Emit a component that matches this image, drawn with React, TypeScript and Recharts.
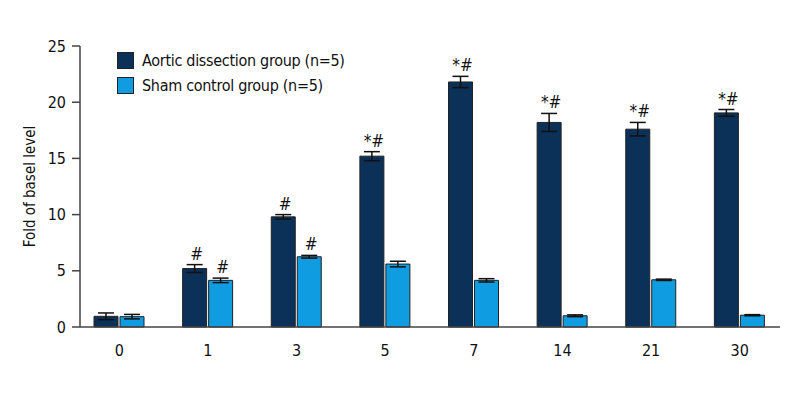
import React from 'react';
import { BarChart, Bar, XAxis, YAxis, ErrorBar, LabelList } from 'recharts';

const days = ['0', '1', '3', '5', '7', '14', '21', '30'];
const aorticValues = [0.95, 5.2, 9.8, 15.2, 21.8, 18.2, 17.6, 19.05];
const aorticErrors = [0.3, 0.35, 0.2, 0.4, 0.5, 0.8, 0.6, 0.3];
const aorticMarks = ['', '#', '#', '*#', '*#', '*#', '*#', '*#'];
const shamValues = [0.92, 4.15, 6.25, 5.6, 4.15, 1.0, 4.2, 1.05];
const shamErrors = [0.2, 0.2, 0.12, 0.25, 0.15, 0.08, 0.06, 0.05];
const shamMarks = ['', '#', '#', '', '', '', '', ''];
const yTicks = [0, 5, 10, 15, 20, 25];

const seriesNames = ['Aortic dissection group (n=5)', 'Sham control group (n=5)'];
const DARK = '#0b3158';
const LIGHT = '#0f9ce0';
const FONT = '"DejaVu Sans Condensed", "Liberation Sans Narrow", "Noto Sans", sans-serif';

const data = days.map((d, i) => ({
  day: d,
  aortic: aorticValues[i],
  aorticErr: aorticErrors[i],
  aorticMark: aorticMarks[i],
  sham: shamValues[i],
  shamErr: shamErrors[i],
  shamMark: shamMarks[i],
}));

const makeMarkLabel = (errs: number[], vals: number[]) => (props: any) => {
  const { x, y, width, height, value, index } = props;
  if (!value) return null;
  const v = vals[index];
  const pxPerUnit = v > 0 ? Math.abs(height) / v : 0;
  const errPx = errs[index] * pxPerUnit;
  return (
    <text
      x={x + width / 2 + 2}
      y={y - errPx - 5}
      textAnchor="middle"
      fontFamily={FONT}
      fontSize={17}
      fill="#111"
    >
      {value}
    </text>
  );
};

const LegendBox = () => (
  <div
    style={{
      position: 'absolute',
      left: 117,
      top: 48,
      fontFamily: FONT,
      fontSize: 16,
      letterSpacing: '-0.3px',
      color: '#111',
      lineHeight: '25px',
    }}
  >
    {[DARK, LIGHT].map((c, i) => (
      <div key={i} style={{ display: 'flex', alignItems: 'center', height: 25 }}>
        <span
          style={{
            display: 'inline-block',
            width: 15,
            height: 15,
            background: c,
            border: '1px solid #222',
            marginRight: 8,
          }}
        />
        <span>{seriesNames[i]}</span>
      </div>
    ))}
  </div>
);

export default function App() {
  return (
    <div style={{ position: 'absolute', left: 0, top: 0, width: 800, height: 400, background: '#fff' }}>
      <BarChart
        width={800}
        height={400}
        data={data}
        margin={{ top: 46, right: 20, bottom: 43, left: 0 }}
        barCategoryGap={19}
        barGap={2}
      >
        <XAxis
          dataKey="day"
          tickLine={false}
          axisLine={{ stroke: '#444', strokeWidth: 1.5 }}
          tick={{ fill: '#111', fontSize: 16, fontFamily: FONT }}
          tickMargin={12}
          height={30}
          padding={{ left: -5, right: -4 }}
        />
        <YAxis
          width={80}
          domain={[0, 25]}
          ticks={yTicks}
          interval={0}
          axisLine={{ stroke: '#444', strokeWidth: 1.5 }}
          tickLine={{ stroke: '#444', strokeWidth: 1.5 }}
          tickSize={8}
          tickMargin={6}
          tick={{ fill: '#111', fontSize: 16, fontFamily: FONT }}
          label={{
            value: 'Fold of basel level',
            angle: -90,
            position: 'insideLeft',
            offset: 30,
            style: { textAnchor: 'middle', fontFamily: FONT, fontSize: 15, fill: '#111' },
          }}
        />
        <Bar dataKey="aortic" name={seriesNames[0]} fill={DARK} stroke="#222" strokeWidth={1} isAnimationActive={false}>
          <ErrorBar dataKey="aorticErr" width={8} stroke="#111" strokeWidth={1.5} direction="y" />
          <LabelList dataKey="aorticMark" content={makeMarkLabel(aorticErrors, aorticValues)} />
        </Bar>
        <Bar dataKey="sham" name={seriesNames[1]} fill={LIGHT} stroke="#222" strokeWidth={1} isAnimationActive={false}>
          <ErrorBar dataKey="shamErr" width={8} stroke="#111" strokeWidth={1.5} direction="y" />
          <LabelList dataKey="shamMark" content={makeMarkLabel(shamErrors, shamValues)} />
        </Bar>
      </BarChart>
      <LegendBox />
    </div>
  );
}
